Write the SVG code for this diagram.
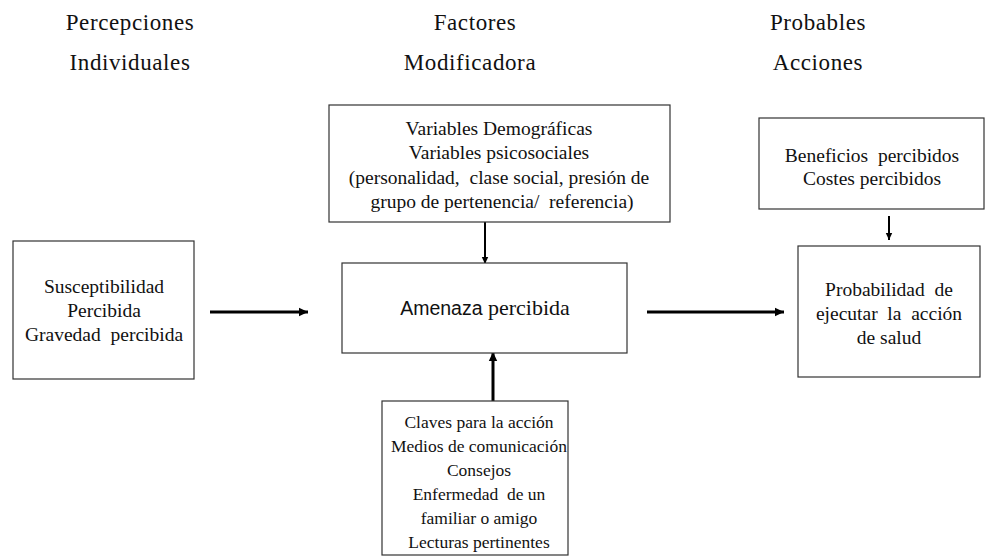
<svg xmlns="http://www.w3.org/2000/svg" width="986" height="558" viewBox="0 0 986 558">
<style>
  text{font-family:'Liberation Serif', 'DejaVu Serif', serif}
  .t{fill:#111;text-anchor:middle}
  .h{font-size:23px;letter-spacing:0.6px}
  .b{font-size:19.5px}
  .s{font-size:17.5px}
  .sans{font-family:'Liberation Sans', Arial, sans-serif;font-size:19.5px}
  .ser{font-size:22px}
  .box{fill:#fff;stroke:#333;stroke-width:1.2}
  .c{stroke:#000;fill:none}
</style>
<defs>
  <marker id="ah" markerUnits="userSpaceOnUse" markerWidth="10" markerHeight="10" refX="9" refY="5" orient="auto">
    <path d="M0,0.8 L9,5 L0,9.2 Z" fill="#000"/>
  </marker>
  <marker id="ahs" markerUnits="userSpaceOnUse" markerWidth="8" markerHeight="8" refX="7" refY="4" orient="auto">
    <path d="M0,0.8 L7,4 L0,7.2 Z" fill="#000"/>
  </marker>
</defs>
<rect width="986" height="558" fill="#fff"/>

<g id="headers">
  <text class="t h" x="130" y="30">Percepciones</text>
  <text class="t h" x="130" y="70">Individuales</text>
  <text class="t h" x="475" y="30">Factores</text>
  <text class="t h" x="470" y="70">Modificadora</text>
  <text class="t h" x="818" y="30">Probables</text>
  <text class="t h" x="818" y="70">Acciones</text>
</g>

<g id="connectors">
  <line class="c" x1="210" y1="312" x2="308" y2="312" stroke-width="3" marker-end="url(#ah)"/>
  <line class="c" x1="647" y1="312" x2="784" y2="312" stroke-width="3" marker-end="url(#ah)"/>
  <line class="c" x1="485" y1="222" x2="485" y2="264" stroke-width="2" marker-end="url(#ahs)"/>
  <line class="c" x1="493" y1="401" x2="493" y2="352" stroke-width="3" marker-end="url(#ah)"/>
  <line class="c" x1="889" y1="216" x2="889" y2="240" stroke-width="2" marker-end="url(#ahs)"/>
</g>

<g id="node-susceptibilidad">
  <rect class="box" x="13" y="241" width="181" height="138"/>
  <text class="t b" x="104" y="293">Susceptibilidad</text>
  <text class="t b" x="104" y="317">Percibida</text>
  <text class="t b" x="104" y="341" xml:space="preserve">Gravedad  percibida</text>
</g>

<g id="node-variables">
  <rect class="box" x="329" y="105" width="341" height="117"/>
  <text class="t b" x="499" y="135">Variables Demográficas</text>
  <text class="t b" x="499" y="159">Variables psicosociales</text>
  <text class="t b" x="499" y="184" xml:space="preserve">(personalidad,  clase social, presión de</text>
  <text class="t b" x="502" y="208" xml:space="preserve">grupo de pertenencia/  referencia)</text>
</g>

<g id="node-amenaza">
  <rect class="box" x="342" y="263" width="285" height="90"/>
  <text class="t" x="485" y="315"><tspan class="sans">Amenaza</tspan><tspan class="ser"> percibida</tspan></text>
</g>

<g id="node-claves">
  <rect class="box" x="382" y="401" width="186" height="154"/>
  <text class="t s" x="479" y="428">Claves para la acción</text>
  <text class="t s" x="479" y="452">Medios de comunicación</text>
  <text class="t s" x="479" y="476">Consejos</text>
  <text class="t s" x="479" y="500" xml:space="preserve">Enfermedad  de un</text>
  <text class="t s" x="479" y="524">familiar o amigo</text>
  <text class="t s" x="479" y="548">Lecturas pertinentes</text>
</g>

<g id="node-beneficios">
  <rect class="box" x="759" y="118" width="225" height="91"/>
  <text class="t b" x="872" y="162" xml:space="preserve">Beneficios  percibidos</text>
  <text class="t b" x="872" y="185">Costes percibidos</text>
</g>

<g id="node-probabilidad">
  <rect class="box" x="798" y="246" width="182" height="131"/>
  <text class="t b" x="889" y="296" xml:space="preserve">Probabilidad  de</text>
  <text class="t b" x="889" y="320" xml:space="preserve">ejecutar  la  acción</text>
  <text class="t b" x="889" y="344">de salud</text>
</g>
</svg>
